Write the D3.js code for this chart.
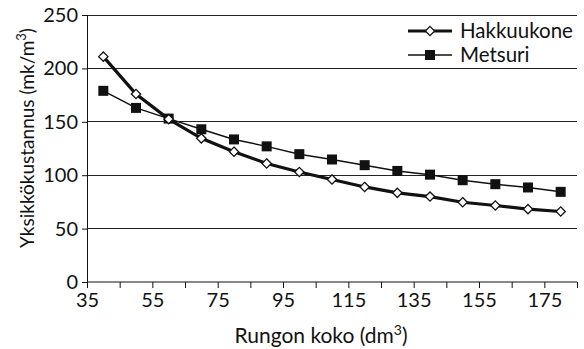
<!DOCTYPE html>
<meta charset="utf-8">
<script src="https://d3js.org/d3.v7.min.js"></script>
<style>
  body { margin: 0; background: #fff; }
  text { font-family: "Lato", "Liberation Sans", sans-serif; fill: #111; }
</style>
<div id="chart"></div>
<script>
  // Rungon koko (dm3)
  var sizes = [40, 50, 60, 70, 80, 90, 100, 110, 120, 130, 140, 150, 160, 170, 180];
  // Yksikkökustannus (mk/m3)
  var hakkuukone = [211, 176, 152.5, 134.5, 122, 111, 103, 96, 89, 83.5, 80, 74.7, 71.6, 68.2, 66];
  var metsuri = [179, 163, 153, 143, 133.5, 127, 119.7, 114.7, 109.4, 104, 100.5, 95.3, 91.6, 88.5, 84.4];
  var yTicks = [0, 50, 100, 150, 200, 250];
  var xTickLabels = [35, 55, 75, 95, 115, 135, 155, 175];

  var W = 584, H = 349;
  var margin = {top: 15, right: 7, bottom: 67, left: 87};
  var width = W - margin.left - margin.right,
      height = H - margin.top - margin.bottom;

  var svg = d3.select("#chart").append("svg")
      .attr("width", W).attr("height", H)
    .append("g")
      .attr("transform", "translate(" + margin.left + "," + margin.top + ")");

  var x = d3.scaleLinear().domain([35, 185]).range([0, width]);
  var y = d3.scaleLinear().domain([0, 250]).range([height, 0]);

  // gridlines
  svg.append("g").selectAll("line")
    .data(yTicks.filter(function(d) { return d > 0; }))
    .enter().append("line")
      .attr("x1", 0).attr("x2", width)
      .attr("y1", function(d) { return y(d); })
      .attr("y2", function(d) { return y(d); })
      .attr("stroke", "#222").attr("stroke-width", 1)
      .attr("shape-rendering", "crispEdges");

  // y axis
  var yAxis = svg.append("g")
    .call(d3.axisLeft(y).tickValues(yTicks).tickSize(5).tickPadding(4));
  yAxis.select(".domain").attr("stroke", "#111");
  yAxis.selectAll("line").attr("stroke", "#111");
  yAxis.selectAll("text").attr("font-size", 20);

  // x axis: ticks every 10, labels every 20
  var xAxis = svg.append("g")
    .attr("transform", "translate(0," + height + ")")
    .call(d3.axisBottom(x).tickValues(d3.range(35, 186, 10)).tickSize(6).tickPadding(5)
      .tickFormat(function(d) { return xTickLabels.indexOf(d) >= 0 ? d : ""; }));
  xAxis.select(".domain").attr("stroke", "#111").attr("d", "M0,0H" + width);
  xAxis.selectAll("line").attr("stroke", "#111");
  xAxis.selectAll("text").attr("font-size", 20);

  // axis titles
  svg.append("text")
    .attr("transform", "rotate(-90)")
    .attr("x", -(138 - margin.top)).attr("y", -53)
    .attr("text-anchor", "middle")
    .attr("font-size", 19)
    .html("Yksikkökustannus (mk/m<tspan baseline-shift='super' font-size='13'>3</tspan>)");
  svg.append("text")
    .attr("x", 321 - margin.left).attr("y", height + 61)
    .attr("text-anchor", "middle")
    .attr("font-size", 21)
    .html("Rungon koko (dm<tspan baseline-shift='super' font-size='14'>3</tspan>)");

  var line = function(vals) {
    return d3.line()
      .x(function(d, i) { return x(sizes[i]); })
      .y(function(d) { return y(d); })(vals);
  };

  // Metsuri
  svg.append("path").attr("d", line(metsuri))
    .attr("fill", "none").attr("stroke", "#111").attr("stroke-width", 1.5);
  svg.append("g").selectAll("rect").data(metsuri).enter().append("rect")
    .attr("x", function(d, i) { return x(sizes[i]) - 5; })
    .attr("y", function(d) { return y(d) - 5; })
    .attr("width", 10).attr("height", 10)
    .attr("fill", "#111");

  // Hakkuukone
  var diamond = d3.symbol().type(d3.symbolDiamond2).size(55);
  svg.append("path").attr("d", line(hakkuukone))
    .attr("fill", "none").attr("stroke", "#111").attr("stroke-width", 3.2);
  svg.append("g").selectAll("path").data(hakkuukone).enter().append("path")
    .attr("d", diamond)
    .attr("transform", function(d, i) { return "translate(" + x(sizes[i]) + "," + y(d) + ")"; })
    .attr("fill", "#fff").attr("stroke", "#111").attr("stroke-width", 1.3);

  // legend
  var legend = svg.append("g").attr("transform", "translate(" + (408 - margin.left) + "," + (31 - margin.top) + ")");
  legend.append("line").attr("x1", 0).attr("x2", 44).attr("y1", 0).attr("y2", 0)
    .attr("stroke", "#111").attr("stroke-width", 3.2);
  legend.append("path").attr("d", diamond).attr("transform", "translate(22,0)")
    .attr("fill", "#fff").attr("stroke", "#111").attr("stroke-width", 1.3);
  legend.append("text").attr("x", 52).attr("y", 0).attr("dy", "0.36em")
    .attr("font-size", 20.5).text("Hakkuukone");
  legend.append("line").attr("x1", 0).attr("x2", 44).attr("y1", 24).attr("y2", 24)
    .attr("stroke", "#111").attr("stroke-width", 1.5);
  legend.append("rect").attr("x", 17).attr("y", 19).attr("width", 10).attr("height", 10)
    .attr("fill", "#111");
  legend.append("text").attr("x", 52).attr("y", 24).attr("dy", "0.36em")
    .attr("font-size", 20.5).text("Metsuri");
</script>
